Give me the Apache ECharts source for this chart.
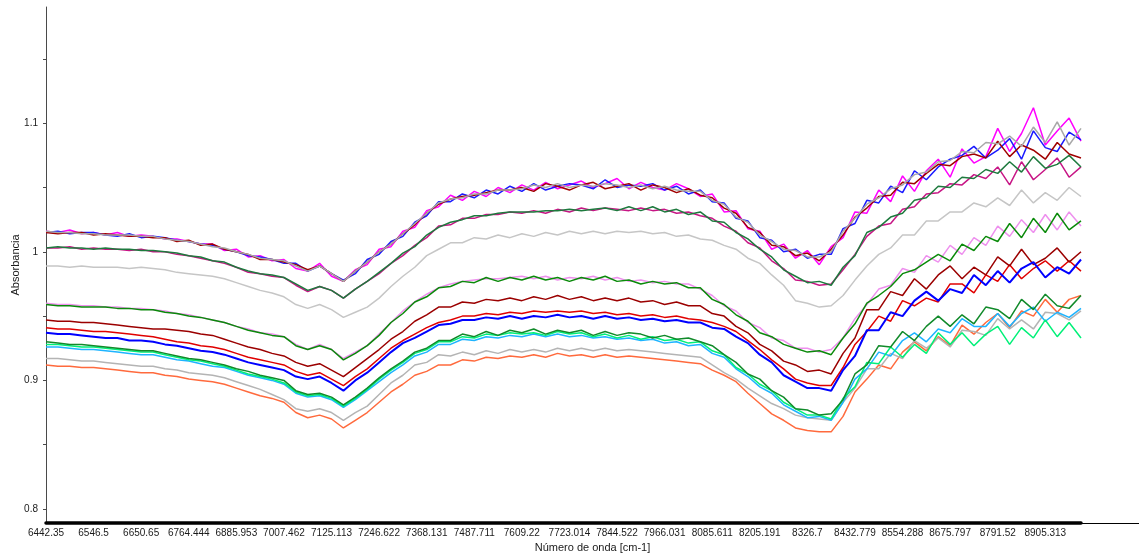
<!DOCTYPE html>
<html>
<head>
<meta charset="utf-8">
<script src="https://cdn.jsdelivr.net/npm/echarts@6/dist/echarts.min.js"></script>
<style>
html,body{margin:0;padding:0;background:#fff;}
#chart{width:1139px;height:557px;}
</style>
</head>
<body>
<div id="chart"></div>
<script>
// Tick labels of the x axis (wavenumber, cm-1), one every 4 samples
const xTickLabels = ["6442.35","6546.5","6650.65","6764.444","6885.953","7007.462","7125.113","7246.622","7368.131","7487.711","7609.22","7723.014","7844.522","7966.031","8085.611","8205.191","8326.7","8432.779","8554.288","8675.797","8791.52","8905.313"];
const yTickValues = [0.8, 0.9, 1.0, 1.1];
const yMinorTicks = [0.8, 0.85, 0.9, 0.95, 1.0, 1.05, 1.1, 1.15];

// Absorbance spectra (88 samples each)
const topMagenta = [1.016,1.015,1.017,1.014,1.015,1.013,1.015,1.012,1.013,1.012,
1.010,1.010,1.008,1.006,1.006,1.001,1.002,0.996,0.997,0.993,
0.994,0.987,0.985,0.991,0.981,0.977,0.986,0.990,1.002,1.004,
1.016,1.019,1.032,1.035,1.044,1.040,1.047,1.043,1.050,1.046,
1.052,1.048,1.054,1.049,1.052,1.055,1.050,1.053,1.057,1.049,
1.054,1.050,1.048,1.053,1.049,1.043,1.045,1.031,1.032,1.018,
1.016,1.002,1.006,0.995,1.001,0.990,1.004,1.011,1.031,1.030,
1.048,1.039,1.059,1.047,1.063,1.072,1.058,1.080,1.069,1.074,
1.096,1.078,1.092,1.112,1.083,1.094,1.104,1.086];
const topBlue = [1.015,1.016,1.014,1.015,1.015,1.013,1.012,1.014,1.011,1.012,
1.011,1.009,1.008,1.006,1.005,1.002,1.000,0.997,0.996,0.994,
0.991,0.991,0.985,0.989,0.983,0.978,0.983,0.994,0.998,1.008,
1.012,1.023,1.028,1.039,1.039,1.045,1.042,1.048,1.045,1.051,
1.047,1.053,1.048,1.051,1.053,1.052,1.049,1.056,1.050,1.052,
1.051,1.053,1.048,1.051,1.045,1.048,1.039,1.038,1.026,1.024,
1.011,1.009,1.000,1.002,0.995,0.998,0.998,1.018,1.022,1.040,
1.038,1.051,1.046,1.063,1.056,1.066,1.072,1.075,1.082,1.073,
1.079,1.088,1.072,1.094,1.081,1.078,1.093,1.087];
const topDarkRed = [1.015,1.014,1.015,1.015,1.013,1.014,1.013,1.012,1.012,1.011,
1.011,1.008,1.009,1.005,1.006,1.002,1.000,0.998,0.994,0.994,
0.992,0.990,0.986,0.989,0.983,0.977,0.985,0.992,1.000,1.006,
1.014,1.021,1.030,1.037,1.041,1.043,1.044,1.046,1.048,1.048,
1.050,1.047,1.053,1.051,1.048,1.052,1.054,1.049,1.051,1.053,
1.048,1.052,1.050,1.046,1.049,1.044,1.042,1.034,1.030,1.019,
1.015,1.005,1.004,0.997,0.999,0.993,1.002,1.013,1.027,1.034,
1.043,1.044,1.054,1.053,1.061,1.068,1.067,1.074,1.076,1.073,
1.086,1.074,1.083,1.079,1.072,1.085,1.076,1.073];
const topGray = [1.016,1.015,1.015,1.014,1.014,1.013,1.013,1.013,1.012,1.012,
1.010,1.009,1.008,1.006,1.004,1.003,1.000,0.998,0.995,0.994,
0.993,0.989,0.985,0.989,0.983,0.977,0.985,0.992,1.000,1.006,
1.014,1.022,1.030,1.038,1.041,1.042,1.045,1.045,1.048,1.048,
1.049,1.052,1.050,1.053,1.050,1.052,1.051,1.053,1.052,1.050,
1.052,1.049,1.051,1.048,1.047,1.047,1.040,1.037,1.027,1.023,
1.013,1.008,1.002,1.001,0.996,0.996,1.000,1.016,1.026,1.037,
1.042,1.049,1.052,1.060,1.062,1.070,1.071,1.078,1.077,1.085,
1.084,1.090,1.082,1.097,1.085,1.101,1.083,1.096];
const secVioletRed = [1.003,1.003,1.004,1.002,1.003,1.002,1.002,1.001,1.002,1.000,
1.000,0.998,0.997,0.995,0.993,0.991,0.988,0.984,0.983,0.981,
0.980,0.974,0.969,0.973,0.970,0.964,0.971,0.977,0.983,0.991,
0.997,1.005,1.011,1.020,1.021,1.026,1.026,1.029,1.029,1.031,
1.030,1.032,1.030,1.033,1.031,1.034,1.032,1.034,1.033,1.032,
1.034,1.032,1.033,1.030,1.031,1.028,1.026,1.020,1.016,1.007,
1.003,0.993,0.987,0.978,0.977,0.974,0.975,0.986,0.998,1.012,
1.020,1.022,1.033,1.035,1.045,1.046,1.053,1.052,1.060,1.057,
1.066,1.052,1.070,1.056,1.064,1.073,1.058,1.066];
const secDarkGreen = [1.003,1.004,1.003,1.003,1.002,1.003,1.002,1.002,1.001,1.001,
1.000,0.999,0.997,0.996,0.993,0.992,0.988,0.985,0.983,0.982,
0.980,0.975,0.970,0.973,0.970,0.964,0.971,0.977,0.984,0.991,
0.999,1.004,1.013,1.019,1.023,1.025,1.028,1.028,1.030,1.031,
1.031,1.031,1.032,1.032,1.033,1.032,1.033,1.034,1.032,1.035,
1.032,1.035,1.031,1.033,1.029,1.031,1.024,1.023,1.015,1.010,
1.002,0.996,0.986,0.981,0.976,0.977,0.974,0.988,0.997,1.015,
1.019,1.027,1.030,1.040,1.042,1.051,1.050,1.058,1.057,1.064,
1.061,1.070,1.062,1.074,1.065,1.068,1.075,1.066];
const thirdSilver = [0.989,0.989,0.988,0.989,0.988,0.988,0.988,0.987,0.988,0.987,
0.986,0.984,0.983,0.982,0.981,0.979,0.976,0.973,0.970,0.968,
0.965,0.959,0.956,0.959,0.955,0.949,0.953,0.957,0.964,0.973,
0.981,0.988,0.997,1.002,1.007,1.007,1.011,1.010,1.013,1.011,
1.014,1.012,1.015,1.013,1.016,1.014,1.016,1.014,1.016,1.015,
1.016,1.014,1.015,1.012,1.013,1.010,1.009,1.005,1.002,0.995,
0.991,0.982,0.974,0.962,0.960,0.957,0.958,0.966,0.978,0.989,
0.998,1.003,1.013,1.013,1.024,1.024,1.031,1.031,1.038,1.035,
1.042,1.036,1.048,1.038,1.046,1.040,1.050,1.043];
const fourthGreen = [0.959,0.958,0.958,0.957,0.957,0.957,0.956,0.956,0.955,0.955,
0.953,0.952,0.950,0.949,0.947,0.945,0.942,0.939,0.937,0.935,
0.934,0.927,0.924,0.927,0.924,0.916,0.921,0.927,0.935,0.945,
0.952,0.961,0.965,0.972,0.973,0.977,0.976,0.980,0.977,0.980,
0.978,0.981,0.978,0.980,0.977,0.980,0.978,0.981,0.977,0.978,
0.975,0.977,0.975,0.976,0.972,0.972,0.963,0.959,0.951,0.946,
0.937,0.934,0.928,0.925,0.922,0.923,0.920,0.933,0.944,0.960,
0.966,0.973,0.983,0.986,0.992,0.998,0.993,1.006,1.001,1.012,
1.008,1.022,1.011,1.026,1.015,1.030,1.017,1.024];
const fourthViolet = [0.960,0.959,0.959,0.958,0.958,0.957,0.957,0.956,0.956,0.955,
0.954,0.952,0.951,0.949,0.947,0.945,0.942,0.940,0.937,0.936,
0.934,0.928,0.924,0.928,0.924,0.917,0.922,0.927,0.936,0.945,
0.954,0.961,0.967,0.972,0.975,0.977,0.978,0.979,0.979,0.980,
0.981,0.979,0.981,0.978,0.980,0.979,0.981,0.978,0.980,0.977,
0.978,0.976,0.977,0.975,0.975,0.971,0.966,0.958,0.954,0.945,
0.941,0.933,0.931,0.925,0.925,0.922,0.924,0.933,0.948,0.959,
0.971,0.974,0.987,0.984,0.997,0.992,1.005,0.998,1.011,1.005,
1.020,1.012,1.025,1.015,1.029,1.017,1.031,1.020];
const fifthDarkRed = [0.947,0.946,0.946,0.945,0.945,0.944,0.943,0.942,0.941,0.940,
0.940,0.939,0.938,0.936,0.935,0.932,0.929,0.926,0.924,0.921,
0.919,0.914,0.911,0.913,0.908,0.903,0.910,0.917,0.924,0.932,
0.938,0.946,0.951,0.957,0.957,0.961,0.960,0.963,0.962,0.964,
0.962,0.965,0.963,0.966,0.963,0.965,0.962,0.964,0.962,0.964,
0.961,0.962,0.959,0.961,0.958,0.958,0.952,0.950,0.942,0.937,
0.928,0.923,0.915,0.912,0.907,0.908,0.905,0.921,0.933,0.955,
0.955,0.969,0.966,0.979,0.971,0.982,0.989,0.979,0.988,0.982,
0.996,0.989,1.002,0.990,0.995,1.003,0.992,1.000];
const sixthRed = [0.941,0.940,0.940,0.939,0.938,0.938,0.937,0.936,0.935,0.934,
0.932,0.930,0.929,0.927,0.926,0.924,0.921,0.918,0.916,0.914,
0.912,0.907,0.904,0.906,0.901,0.896,0.903,0.909,0.917,0.925,
0.931,0.936,0.941,0.945,0.947,0.950,0.950,0.952,0.951,0.953,
0.952,0.954,0.953,0.954,0.953,0.954,0.952,0.953,0.951,0.952,
0.950,0.951,0.949,0.950,0.948,0.947,0.945,0.942,0.938,0.931,
0.924,0.916,0.909,0.901,0.898,0.896,0.896,0.910,0.928,0.938,
0.950,0.946,0.962,0.958,0.964,0.961,0.975,0.975,0.968,0.982,
0.977,0.990,0.979,0.987,0.993,0.985,0.993,0.985];
const seventhBlue = [0.937,0.936,0.936,0.935,0.934,0.933,0.933,0.931,0.931,0.930,
0.928,0.927,0.925,0.923,0.922,0.920,0.917,0.914,0.912,0.910,
0.908,0.903,0.901,0.903,0.898,0.892,0.900,0.906,0.914,0.922,
0.929,0.933,0.938,0.943,0.944,0.947,0.947,0.949,0.948,0.950,
0.948,0.950,0.949,0.951,0.949,0.950,0.948,0.950,0.948,0.949,
0.947,0.948,0.946,0.947,0.945,0.945,0.941,0.940,0.934,0.929,
0.920,0.914,0.904,0.899,0.894,0.894,0.892,0.908,0.919,0.939,
0.939,0.953,0.950,0.962,0.969,0.962,0.971,0.968,0.982,0.974,
0.985,0.976,0.987,0.992,0.980,0.988,0.983,0.994];
const eighthGreen = [0.930,0.929,0.928,0.928,0.927,0.926,0.925,0.924,0.923,0.923,
0.921,0.919,0.917,0.916,0.914,0.912,0.909,0.907,0.904,0.902,
0.900,0.892,0.889,0.890,0.887,0.881,0.887,0.894,0.902,0.909,
0.915,0.922,0.925,0.931,0.931,0.936,0.934,0.938,0.935,0.939,
0.937,0.940,0.936,0.939,0.937,0.939,0.935,0.938,0.935,0.937,
0.936,0.933,0.935,0.932,0.933,0.930,0.927,0.920,0.914,0.905,
0.901,0.892,0.887,0.878,0.877,0.873,0.874,0.885,0.905,0.912,
0.927,0.926,0.938,0.931,0.942,0.950,0.942,0.951,0.944,0.957,
0.955,0.948,0.963,0.955,0.967,0.958,0.956,0.966];
const eighthSpringGreen = [0.928,0.928,0.927,0.926,0.926,0.925,0.924,0.923,0.922,0.922,
0.920,0.918,0.916,0.915,0.913,0.911,0.908,0.905,0.903,0.901,
0.898,0.891,0.888,0.889,0.886,0.880,0.886,0.893,0.901,0.908,
0.914,0.921,0.924,0.930,0.930,0.934,0.933,0.936,0.935,0.937,
0.936,0.937,0.935,0.938,0.936,0.937,0.934,0.936,0.933,0.935,
0.932,0.934,0.931,0.932,0.929,0.930,0.923,0.920,0.910,0.905,
0.897,0.892,0.883,0.878,0.873,0.873,0.870,0.886,0.895,0.914,
0.913,0.926,0.918,0.928,0.921,0.937,0.928,0.937,0.927,0.936,
0.942,0.928,0.941,0.933,0.947,0.934,0.945,0.933];
const eighthSkyBlue = [0.926,0.926,0.925,0.924,0.924,0.923,0.922,0.921,0.920,0.920,
0.918,0.916,0.915,0.913,0.911,0.910,0.907,0.904,0.902,0.900,
0.897,0.890,0.887,0.888,0.885,0.879,0.885,0.892,0.899,0.906,
0.912,0.919,0.922,0.928,0.928,0.932,0.931,0.934,0.933,0.935,
0.934,0.936,0.934,0.936,0.934,0.935,0.933,0.934,0.932,0.933,
0.931,0.932,0.929,0.930,0.927,0.928,0.921,0.918,0.909,0.903,
0.895,0.890,0.881,0.876,0.871,0.872,0.869,0.883,0.901,0.909,
0.922,0.919,0.931,0.937,0.930,0.940,0.937,0.948,0.942,0.942,
0.952,0.942,0.952,0.957,0.946,0.953,0.949,0.956];
const ninthGray = [0.917,0.917,0.916,0.915,0.915,0.914,0.913,0.912,0.911,0.911,
0.909,0.908,0.906,0.905,0.904,0.902,0.899,0.896,0.893,0.889,
0.885,0.878,0.876,0.878,0.875,0.869,0.875,0.880,0.889,0.898,
0.904,0.912,0.914,0.920,0.919,0.922,0.920,0.923,0.921,0.924,
0.922,0.924,0.922,0.925,0.923,0.925,0.923,0.925,0.923,0.924,
0.923,0.922,0.921,0.920,0.919,0.918,0.912,0.906,0.901,0.894,
0.888,0.882,0.878,0.873,0.871,0.870,0.869,0.883,0.894,0.909,
0.909,0.921,0.917,0.931,0.925,0.933,0.926,0.939,0.938,0.935,
0.948,0.940,0.947,0.940,0.953,0.952,0.947,0.954];
const tenthCoral = [0.912,0.911,0.911,0.910,0.910,0.909,0.908,0.907,0.906,0.906,
0.904,0.903,0.901,0.900,0.899,0.897,0.894,0.891,0.888,0.886,
0.883,0.875,0.871,0.873,0.870,0.863,0.869,0.875,0.883,0.891,
0.897,0.904,0.907,0.912,0.912,0.916,0.915,0.918,0.917,0.919,
0.918,0.920,0.918,0.921,0.919,0.920,0.918,0.920,0.918,0.919,
0.918,0.917,0.916,0.915,0.914,0.913,0.908,0.904,0.899,0.890,
0.882,0.874,0.869,0.863,0.861,0.860,0.860,0.872,0.891,0.901,
0.912,0.909,0.922,0.930,0.923,0.934,0.927,0.943,0.936,0.945,
0.952,0.941,0.954,0.950,0.963,0.953,0.963,0.966];

// drawing order: first = bottom
const seriesList = [
  {name: "fourthViolet", values: fourthViolet, color: "#ee90ee"},
  {name: "fourthGreen", values: fourthGreen, color: "#0a8a0a"},
  {name: "secVioletRed", values: secVioletRed, color: "#c71585"},
  {name: "secDarkGreen", values: secDarkGreen, color: "#1e7a3e"},
  {name: "thirdSilver", values: thirdSilver, color: "#c6c6c6"},
  {name: "topMagenta", values: topMagenta, color: "#ff00ff"},
  {name: "topBlue", values: topBlue, color: "#1a1aff"},
  {name: "topDarkRed", values: topDarkRed, color: "#a00000"},
  {name: "topGray", values: topGray, color: "#a8a8a8"},
  {name: "tenthCoral", values: tenthCoral, color: "#ff6a3d"},
  {name: "ninthGray", values: ninthGray, color: "#b4b4b4"},
  {name: "eighthSkyBlue", values: eighthSkyBlue, color: "#1eb4ff"},
  {name: "eighthSpringGreen", values: eighthSpringGreen, color: "#00f078"},
  {name: "eighthGreen", values: eighthGreen, color: "#118a2a"},
  {name: "sixthRed", values: sixthRed, color: "#e00000"},
  {name: "fifthDarkRed", values: fifthDarkRed, color: "#9b0000"},
  {name: "seventhBlue", values: seventhBlue, color: "#0000ff", width: 2}
];

const LABEL_STEP = 4;
const labelPositions = xTickLabels.map((_, k) => k * LABEL_STEP);
const nPoints = topMagenta.length;

const chart = echarts.init(document.getElementById('chart'), null, {renderer: 'canvas'});
const fontFam = "'Liberation Sans', Arial, sans-serif";

chart.setOption({
  animation: false,
  backgroundColor: '#ffffff',
  grid: [
    {left: 46, right: 0, top: 7, bottom: 34, outerBoundsMode: 'none'},
    {left: 46, right: 58, top: 7, bottom: 34, outerBoundsMode: 'none'}
  ],
  xAxis: [
    {
      gridIndex: 0, type: 'value', min: 0, max: 1,
      axisLine: {show: true, lineStyle: {color: '#000', width: 1}},
      axisTick: {show: false}, axisLabel: {show: false}, splitLine: {show: false},
      name: 'Número de onda [cm-1]', nameLocation: 'middle', nameGap: 19,
      nameMoveOverlap: false,
      nameTextStyle: {fontFamily: fontFam, fontSize: 11, color: '#1a1a1a'}
    },
    {
      gridIndex: 1, type: 'value', min: 0, max: nPoints - 1,
      axisLine: {show: true, onZero: false, lineStyle: {color: '#000', width: 3.5}},
      axisTick: {show: false},
      splitLine: {show: false},
      axisLabel: {
        show: true, customValues: labelPositions, margin: 5,
        fontFamily: fontFam, fontSize: 10, color: '#1a1a1a',
        formatter: v => xTickLabels[Math.round(v / LABEL_STEP)]
      }
    }
  ],
  yAxis: [
    {gridIndex: 0, type: 'value', show: false, min: 0, max: 1},
    {
      gridIndex: 1, type: 'value', min: 0.78911, max: 1.19035,
      axisLine: {show: true, lineStyle: {color: '#4a4a4a', width: 1}},
      axisTick: {show: true, length: 3, customValues: yMinorTicks, lineStyle: {color: '#4a4a4a'}},
      splitLine: {show: false},
      axisLabel: {
        customValues: yTickValues, margin: 8,
        fontFamily: fontFam, fontSize: 10, color: '#1a1a1a',
        formatter: v => String(Math.round(v * 10) / 10)
      },
      name: 'Absorbancia', nameLocation: 'middle', nameGap: 25, nameMoveOverlap: false,
      nameTextStyle: {fontFamily: fontFam, fontSize: 11, color: '#1a1a1a'}
    }
  ],
  series: seriesList.map(s => ({
    name: s.name,
    type: 'line',
    xAxisIndex: 1, yAxisIndex: 1,
    data: s.values.map((v, i) => [i, v]),
    showSymbol: false,
    symbol: 'none',
    silent: true,
    lineStyle: {color: s.color, width: s.width || 1.5},
    z: 2
  }))
});
</script>
</body>
</html>
